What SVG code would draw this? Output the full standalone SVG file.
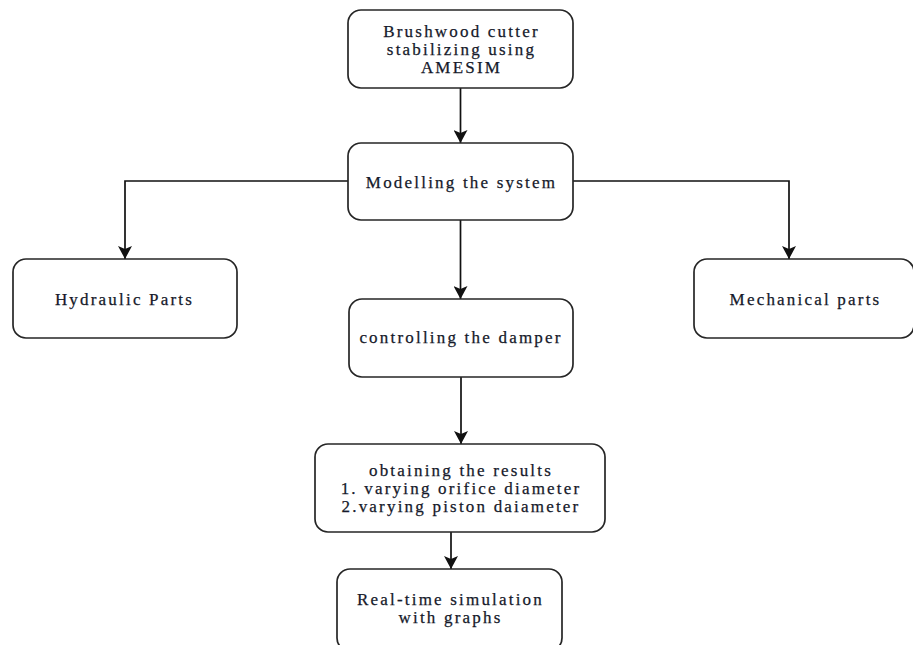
<svg xmlns="http://www.w3.org/2000/svg" width="913" height="645" viewBox="0 0 913 645">
  <style>
    .box { fill: #ffffff; stroke: #262626; stroke-width: 1.7; }
    .lbl { font-size: 17px; fill: #15192a; stroke: #15192a; stroke-width: 0.25px; text-anchor: middle; letter-spacing: 2.2px; }
    .wire { fill: none; stroke: #111111; stroke-width: 1.7; }
  </style>
  <defs>
    <marker id="arrow" markerUnits="userSpaceOnUse" markerWidth="14" markerHeight="14" viewBox="0 0 14 14" refX="13" refY="7" orient="auto">
      <path d="M0,0 L13,7 L0,14 L3,7 Z" fill="#111111"/>
    </marker>
  </defs>
  <rect width="913" height="645" fill="#ffffff"/>

  <!-- connectors -->
  <g id="connectors">
    <line class="wire" x1="460.5" y1="88" x2="460.5" y2="143" marker-end="url(#arrow)"/>
    <polyline class="wire" points="348,181 125,181 125,259" marker-end="url(#arrow)"/>
    <polyline class="wire" points="573,181 789,181 789,259" marker-end="url(#arrow)"/>
    <line class="wire" x1="460.5" y1="220" x2="460.5" y2="299" marker-end="url(#arrow)"/>
    <line class="wire" x1="461" y1="377" x2="461" y2="444" marker-end="url(#arrow)"/>
    <line class="wire" x1="451" y1="532" x2="451" y2="569" marker-end="url(#arrow)"/>
  </g>

  <!-- nodes -->
  <g id="node-start">
    <rect class="box" x="348" y="10" width="225" height="78" rx="13"/>
    <text class="lbl" font-family="Liberation Serif" x="461.5" y="37">Brushwood cutter</text>
    <text class="lbl" font-family="Liberation Serif" x="461.5" y="55">stabilizing using</text>
    <text class="lbl" font-family="Liberation Serif" x="461.5" y="73">AMESIM</text>
  </g>
  <g id="node-model">
    <rect class="box" x="348" y="143" width="225" height="77" rx="13"/>
    <text class="lbl" font-family="Liberation Serif" x="461.5" y="188">Modelling the system</text>
  </g>
  <g id="node-hydraulic">
    <rect class="box" x="13" y="259" width="224" height="79" rx="13"/>
    <text class="lbl" font-family="Liberation Serif" x="124.5" y="305">Hydraulic Parts</text>
  </g>
  <g id="node-mechanical">
    <rect class="box" x="694" y="259" width="220" height="79" rx="13"/>
    <text class="lbl" font-family="Liberation Serif" x="805.5" y="305">Mechanical parts</text>
  </g>
  <g id="node-control">
    <rect class="box" x="349" y="299" width="224" height="78" rx="13"/>
    <text class="lbl" font-family="Liberation Serif" x="461" y="343">controlling the damper</text>
  </g>
  <g id="node-results">
    <rect class="box" x="315" y="444" width="290" height="88" rx="13"/>
    <text class="lbl" font-family="Liberation Serif" x="461" y="476">obtaining the results</text>
    <text class="lbl" font-family="Liberation Serif" x="461" y="494">1. varying orifice diameter</text>
    <text class="lbl" font-family="Liberation Serif" x="461" y="512">2.varying piston daiameter</text>
  </g>
  <g id="node-realtime">
    <rect class="box" x="337" y="569" width="225" height="82" rx="13"/>
    <text class="lbl" font-family="Liberation Serif" x="450.5" y="605">Real-time simulation</text>
    <text class="lbl" font-family="Liberation Serif" x="450.5" y="623">with graphs</text>
  </g>
</svg>
